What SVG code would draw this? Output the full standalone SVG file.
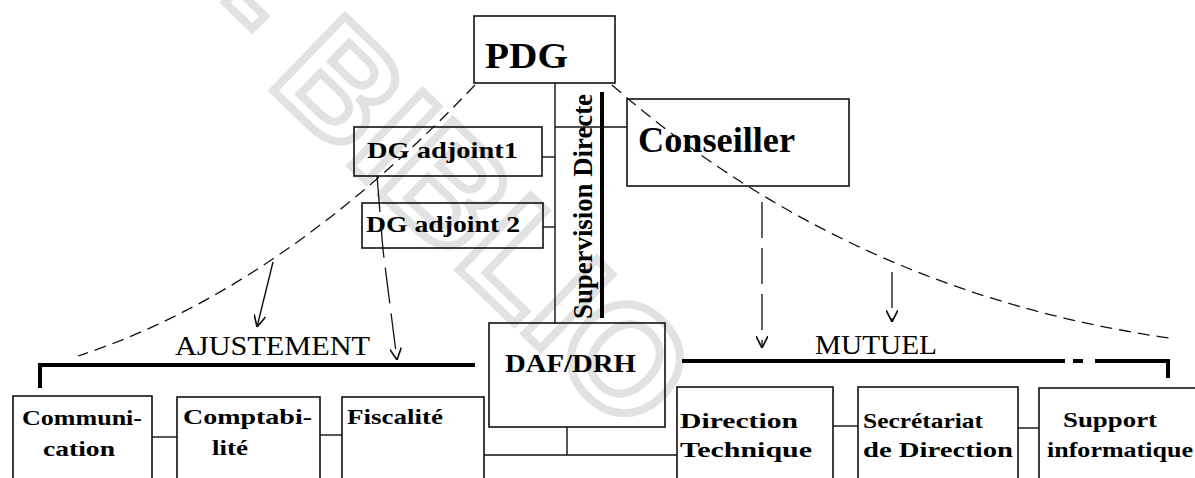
<svg xmlns="http://www.w3.org/2000/svg" width="1195" height="478" viewBox="0 0 1195 478">
<style>
.box{fill:none;stroke:#111;stroke-width:1.6}
.t{font-family:"Liberation Serif","Times New Roman",serif;font-weight:bold;fill:#000}
.r{font-family:"Liberation Serif","Times New Roman",serif;font-weight:normal;fill:#000}
.ln{stroke:#111;stroke-width:1.4;fill:none}
.dash{stroke:#111;stroke-width:1.3;fill:none;stroke-dasharray:12 7}
.ldash{stroke:#111;stroke-width:1.3;fill:none;stroke-dasharray:36 10}
.bar{stroke:#000;stroke-width:4;fill:none}
.wm{font-family:"Liberation Sans",Arial,sans-serif;font-weight:bold;fill:none;stroke:#e2e2e2;stroke-width:8}
</style>
<defs>
<marker id="ah" viewBox="0 0 10 10" refX="10" refY="5" markerWidth="12" markerHeight="12" markerUnits="userSpaceOnUse" orient="auto">
<path d="M0,0 L10,5 L0,10" fill="none" stroke="#111" stroke-width="1.4"/>
</marker>
</defs>
<rect width="1195" height="478" fill="#fff"/>
<g id="watermark">
<text class="wm" x="0" y="0" font-size="150" transform="translate(200,20) rotate(44)">- BIBLIO</text>
</g>
<g id="pdg"><rect class="box" x="474" y="16" width="141" height="67"/><text class="t" x="485" y="68" font-size="36" textLength="83" lengthAdjust="spacingAndGlyphs">PDG</text></g>
<g id="dg1"><rect class="box" x="354" y="127" width="188" height="49"/><text class="t" x="367" y="158" font-size="23" textLength="151" lengthAdjust="spacingAndGlyphs">DG adjoint1</text></g>
<g id="dg2"><rect class="box" x="362" y="203" width="181" height="45"/><text class="t" x="366" y="232" font-size="23" textLength="154" lengthAdjust="spacingAndGlyphs">DG adjoint 2</text></g>
<g id="conseiller"><rect class="box" x="627" y="99" width="222" height="87"/><text class="t" x="638" y="152" font-size="35" textLength="157" lengthAdjust="spacingAndGlyphs">Conseiller</text></g>
<g id="dafdrh"><rect class="box" x="489" y="323" width="176" height="104"/><text class="t" x="505" y="372" font-size="25" textLength="131" lengthAdjust="spacingAndGlyphs">DAF/DRH</text></g>
<g id="communication"><rect class="box" x="13" y="396" width="139" height="100"/><text class="t" x="22" y="425" font-size="21" textLength="120" lengthAdjust="spacingAndGlyphs">Communi-</text><text class="t" x="43" y="456" font-size="21" textLength="72" lengthAdjust="spacingAndGlyphs">cation</text></g>
<g id="comptabilite"><rect class="box" x="177" y="397" width="143" height="100"/><text class="t" x="183" y="424" font-size="21" textLength="129" lengthAdjust="spacingAndGlyphs">Comptabi-</text><text class="t" x="212" y="455" font-size="21" textLength="36" lengthAdjust="spacingAndGlyphs">lité</text></g>
<g id="fiscalite"><rect class="box" x="342" y="397" width="142" height="100"/><text class="t" x="347" y="424" font-size="21" textLength="96" lengthAdjust="spacingAndGlyphs">Fiscalité</text></g>
<g id="direction-technique"><rect class="box" x="677" y="387" width="156" height="110"/><text class="t" x="680" y="428" font-size="21" textLength="118" lengthAdjust="spacingAndGlyphs">Direction</text><text class="t" x="680" y="457" font-size="21" textLength="132" lengthAdjust="spacingAndGlyphs">Technique</text></g>
<g id="secretariat"><rect class="box" x="858" y="387" width="160" height="110"/><text class="t" x="863" y="428" font-size="21" textLength="120" lengthAdjust="spacingAndGlyphs">Secrétariat</text><text class="t" x="863" y="457" font-size="21" textLength="150" lengthAdjust="spacingAndGlyphs">de Direction</text></g>
<g id="support"><rect class="box" x="1039" y="388" width="170" height="110"/><text class="t" x="1063" y="427" font-size="21" textLength="94" lengthAdjust="spacingAndGlyphs">Support</text><text class="t" x="1047" y="457" font-size="21" textLength="146" lengthAdjust="spacingAndGlyphs">informatique</text></g>
<g id="supervision"><path class="bar" d="M602,92 L602,318"/><text class="t" font-size="27" transform="translate(592,319) rotate(-90)" textLength="225" lengthAdjust="spacingAndGlyphs">Supervision Directe</text></g>
<g id="ajustement"><path class="bar" d="M40,388 L40,365 L475,365"/><text class="r" x="175" y="355" font-size="27" textLength="195" lengthAdjust="spacingAndGlyphs">AJUSTEMENT</text></g>
<g id="mutuel"><path class="bar" d="M682,361 L1065,361 M1073,361 L1083,361 M1095,361 L1168,361 L1168,378"/><text class="r" x="815" y="354" font-size="27" textLength="122" lengthAdjust="spacingAndGlyphs">MUTUEL</text></g>
<g id="connectors">
<path class="ln" d="M555,83 L555,323"/>
<path class="ln" d="M555,127 L627,127"/>
<path class="ln" d="M542,157 L555,157"/>
<path class="ln" d="M543,227 L555,227"/>
<path class="ln" d="M567,427 L567,455 M484,455 L677,455"/>
<path class="ln" d="M152,437 L177,437"/>
<path class="ln" d="M320,435 L342,435"/>
<path class="ln" d="M833,426 L858,426"/>
<path class="ln" d="M1018,428 L1039,428"/>
<path class="dash" d="M475,85 Q280,290 78,356"/>
<path class="dash" d="M612,85 Q849,292 1169,338"/>
<path class="ln" d="M273,262 L257,327" marker-end="url(#ah)"/>
<path class="ldash" d="M377,176 L383,250 L397,360" marker-end="url(#ah)"/>
<path class="ldash" d="M762,202 L762,348" marker-end="url(#ah)"/>
<path class="ldash" d="M892,272 L892,322" stroke-dasharray="18 20" marker-end="url(#ah)"/>
</g>
</svg>
